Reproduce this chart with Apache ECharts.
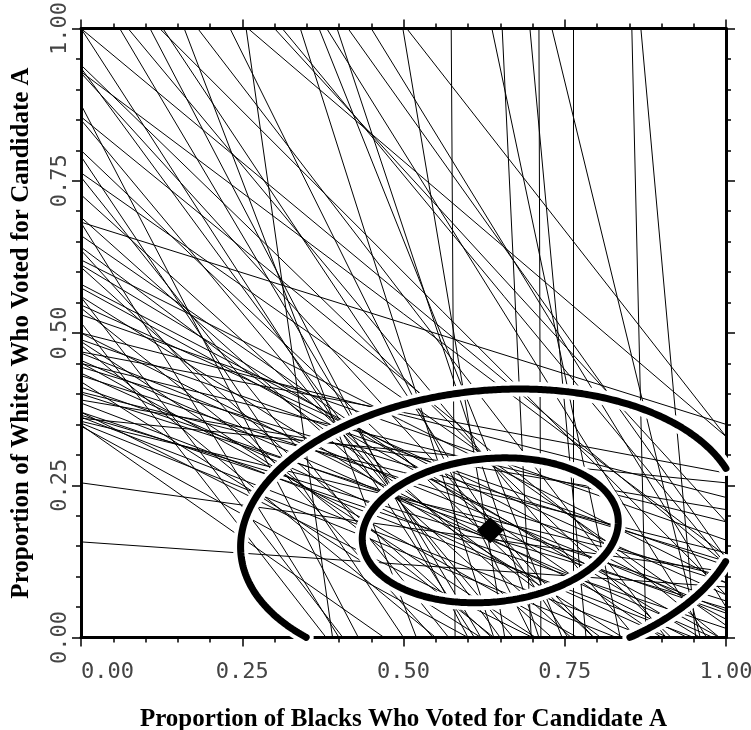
<!DOCTYPE html>
<html>
<head>
<meta charset="utf-8">
<script src="https://cdn.jsdelivr.net/npm/echarts@6/dist/echarts.min.js"></script>
<style>
  html, body { margin: 0; padding: 0; background: #fff; }
  #chart { width: 751px; height: 730px; }
</style>
</head>
<body>
<div id="chart"></div>
<script>
// tomography lines, one per precinct: where each enters and leaves the unit square
const startB = [0.06, 0.073, 0.107, 0.122, 0.127, 0.181, 0.231, 0.256, 0.259, 0.312, 0.369, 0.381, 0.397, 0.414,
  0.499, 0.505, 0.574, 0.637, 0.653, 0.696, 0.710, 0.730, 0.763, 0.854, 0.868,
  0, 0, 0, 0, 0, 0, 0, 0, 0, 0, 0, 0, 0, 0, 0, 0, 0, 0, 0, 0, 0, 0, 0, 0, 0, 0, 0, 0, 0, 0, 0, 0, 0, 0, 0, 0, 0, 0, 0, 0, 0,
  0, 0, 0, 0, 0, 0, 0, 0, 0, 0, 0.30, 0.45, 0, 0, 0, 0, 0, 0, 0, 0, 0.16, 0.34, 0, 0];
const startW = [1, 1, 1, 1, 1, 1, 1, 1, 1, 1, 1, 1, 1, 1, 1, 1, 1, 1, 1, 1, 1, 1, 1, 1, 1,
  1, 1, 0.94, 0.935, 0.929, 0.927, 0.855, 0.85, 0.80, 0.79, 0.763, 0.756, 0.727, 0.682, 0.681,
  0.641, 0.636, 0.612, 0.608, 0.574, 0.559, 0.546, 0.541, 0.517, 0.50, 0.489, 0.486, 0.469, 0.467,
  0.451, 0.444, 0.434, 0.411, 0.403, 0.370, 0.365, 0.360, 0.352, 0.349, 0.254, 0.157,
  0.43, 0.40, 0.385, 0.355, 0.362, 0.58, 0.53, 0.45, 0.39, 0.50, 1, 1, 0.66, 0.347, 0.42, 0.48,
  0.56, 0.37, 0.455, 0.62, 1, 1, 0.875, 0.69];
const endB = [0.62, 0.86, 0.60, 1, 0.755, 0.907, 0.70, 0.39, 1, 1, 0.746, 0.97, 0.71, 1,
  0.657, 1, 0.58, 0.836, 0.698, 0.783, 0.713, 0.96, 0.763, 0.876, 0.953,
  1, 0.61, 0.915, 0.65, 1, 0.795, 0.99, 0.67, 0.795, 0.50, 1, 0.57, 0.76, 1, 0.40,
  0.806, 0.546, 0.96, 0.637, 0.99, 0.406, 1, 0.64, 0.38, 0.94, 1, 0.705, 1, 1,
  0.77, 1, 0.91, 1, 1, 0.70, 1, 1, 0.83, 0.47, 1, 1,
  1, 1, 0.95, 1, 0.88, 1, 1, 1, 1, 1, 1, 1, 0.90, 0.60, 0.62, 0.55,
  0.84, 1, 0.98, 1, 0.52, 0.64, 0.43, 0.73];
const endW = [0, 0, 0, 0.07, 0, 0, 0, 0, 0.33, 0.12, 0, 0, 0, 0.13,
  0, 0.33, 0, 0, 0, 0, 0, 0, 0, 0, 0,
  0.12, 0, 0, 0, 0.134, 0, 0, 0, 0, 0, 0.02, 0, 0, 0.35, 0,
  0, 0, 0, 0, 0, 0, 0.07, 0, 0, 0, 0.118, 0, 0.27, 0.044,
  0, 0.125, 0, 0.04, 0.139, 0, 0.048, 0.254, 0, 0, 0.108, 0.083,
  0.09, 0.06, 0, 0.10, 0, 0.03, 0.16, 0.19, 0.21, 0.23, 0.19, 0.05, 0, 0, 0, 0,
  0, 0.015, 0, 0.09, 0, 0, 0, 0];

// point estimate of (beta_b, beta_w) and its spread
const centre = [0.6345, 0.176];
const spreadB = 0.1985;
const spreadW = 0.119;
const rho = 0.117;
const contourScales = [1, 1.95];

const inside = p => p[0] >= 0 && p[0] <= 1 && p[1] >= 0 && p[1] <= 1;

// contour ellipse, cut into the arcs that lie within the unit square
function contourArcs(k) {
  const n = 1440;
  const arcs = [];
  let cur = [];
  for (let i = 0; i <= n; i++) {
    const t = (i / n) * 2 * Math.PI;
    const p = [
      centre[0] + k * spreadB * Math.cos(t),
      centre[1] + k * spreadW * (rho * Math.cos(t) + Math.sqrt(1 - rho * rho) * Math.sin(t))
    ];
    if (inside(p)) {
      cur.push(p);
    } else if (cur.length) {
      arcs.push(cur);
      cur = [];
    }
  }
  if (cur.length) arcs.push(cur);
  return arcs;
}

const chart = echarts.init(document.getElementById('chart'), null, { renderer: 'canvas' });

const tickFont = { fontFamily: 'DejaVu Sans Mono', fontSize: 22, color: '#444' };
const titleFont = { fontFamily: 'Liberation Serif', fontWeight: 'bold', fontSize: 25, color: '#000' };
const axisBase = {
  type: 'value',
  min: 0,
  max: 1,
  interval: 0.25,
  splitLine: { show: false },
  axisLine: { show: true, onZero: false, lineStyle: { color: '#000', width: 3 } },
  axisTick: { show: true, length: 9, lineStyle: { color: '#000', width: 1.5 } },
  minorTick: { show: true, splitNumber: 5, length: 5, lineStyle: { color: '#000', width: 1.5 } },
  minorSplitLine: { show: false }
};

const series = [{
  type: 'lines',
  coordinateSystem: 'cartesian2d',
  silent: true,
  z: 2,
  lineStyle: { color: '#000', width: 1, opacity: 1, curveness: 0 },
  data: startB.map((b, i) => ({ coords: [[b, startW[i]], [endB[i], endW[i]]] }))
}];

contourScales.forEach(k => {
  contourArcs(k).forEach(arc => {
    const closed = arc.length > 1400 ? arc.concat([arc[0]]) : arc;
    series.push({
      type: 'line', data: closed, showSymbol: false, clip: false, silent: true, z: 3,
      lineStyle: { color: '#fff', width: 15, cap: 'round' }
    });
    series.push({
      type: 'line', data: closed, showSymbol: false, clip: false, silent: true, z: 4,
      lineStyle: { color: '#000', width: 7, cap: 'round' }
    });
  });
});

series.push({
  type: 'scatter',
  data: [centre],
  symbol: 'diamond',
  symbolSize: [27, 26],
  itemStyle: { color: '#000', opacity: 1 },
  z: 5,
  silent: true
});

chart.setOption({
  animation: false,
  backgroundColor: '#fff',
  grid: { left: 81, right: 25, top: 28.5, bottom: 92.5, outerBoundsMode: 'none', containLabel: false },
  xAxis: [
    Object.assign({}, axisBase, {
      position: 'bottom',
      name: 'Proportion of Blacks Who Voted for Candidate A',
      nameLocation: 'middle',
      nameGap: 70,
      nameTextStyle: titleFont,
      axisLabel: Object.assign({ margin: 24, alignMinLabel: 'left', formatter: v => v.toFixed(2) }, tickFont)
    }),
    Object.assign({}, axisBase, { position: 'top', axisLabel: { show: false } })
  ],
  yAxis: [
    Object.assign({}, axisBase, {
      position: 'left',
      name: 'Proportion of Whites Who Voted for Candidate A',
      nameLocation: 'middle',
      nameGap: 47,
      nameTextStyle: titleFont,
      axisLabel: Object.assign({ margin: 10, rotate: 90, formatter: v => v.toFixed(2) }, tickFont)
    }),
    Object.assign({}, axisBase, { position: 'right', axisLabel: { show: false } })
  ],
  series: series
});
</script>
</body>
</html>
